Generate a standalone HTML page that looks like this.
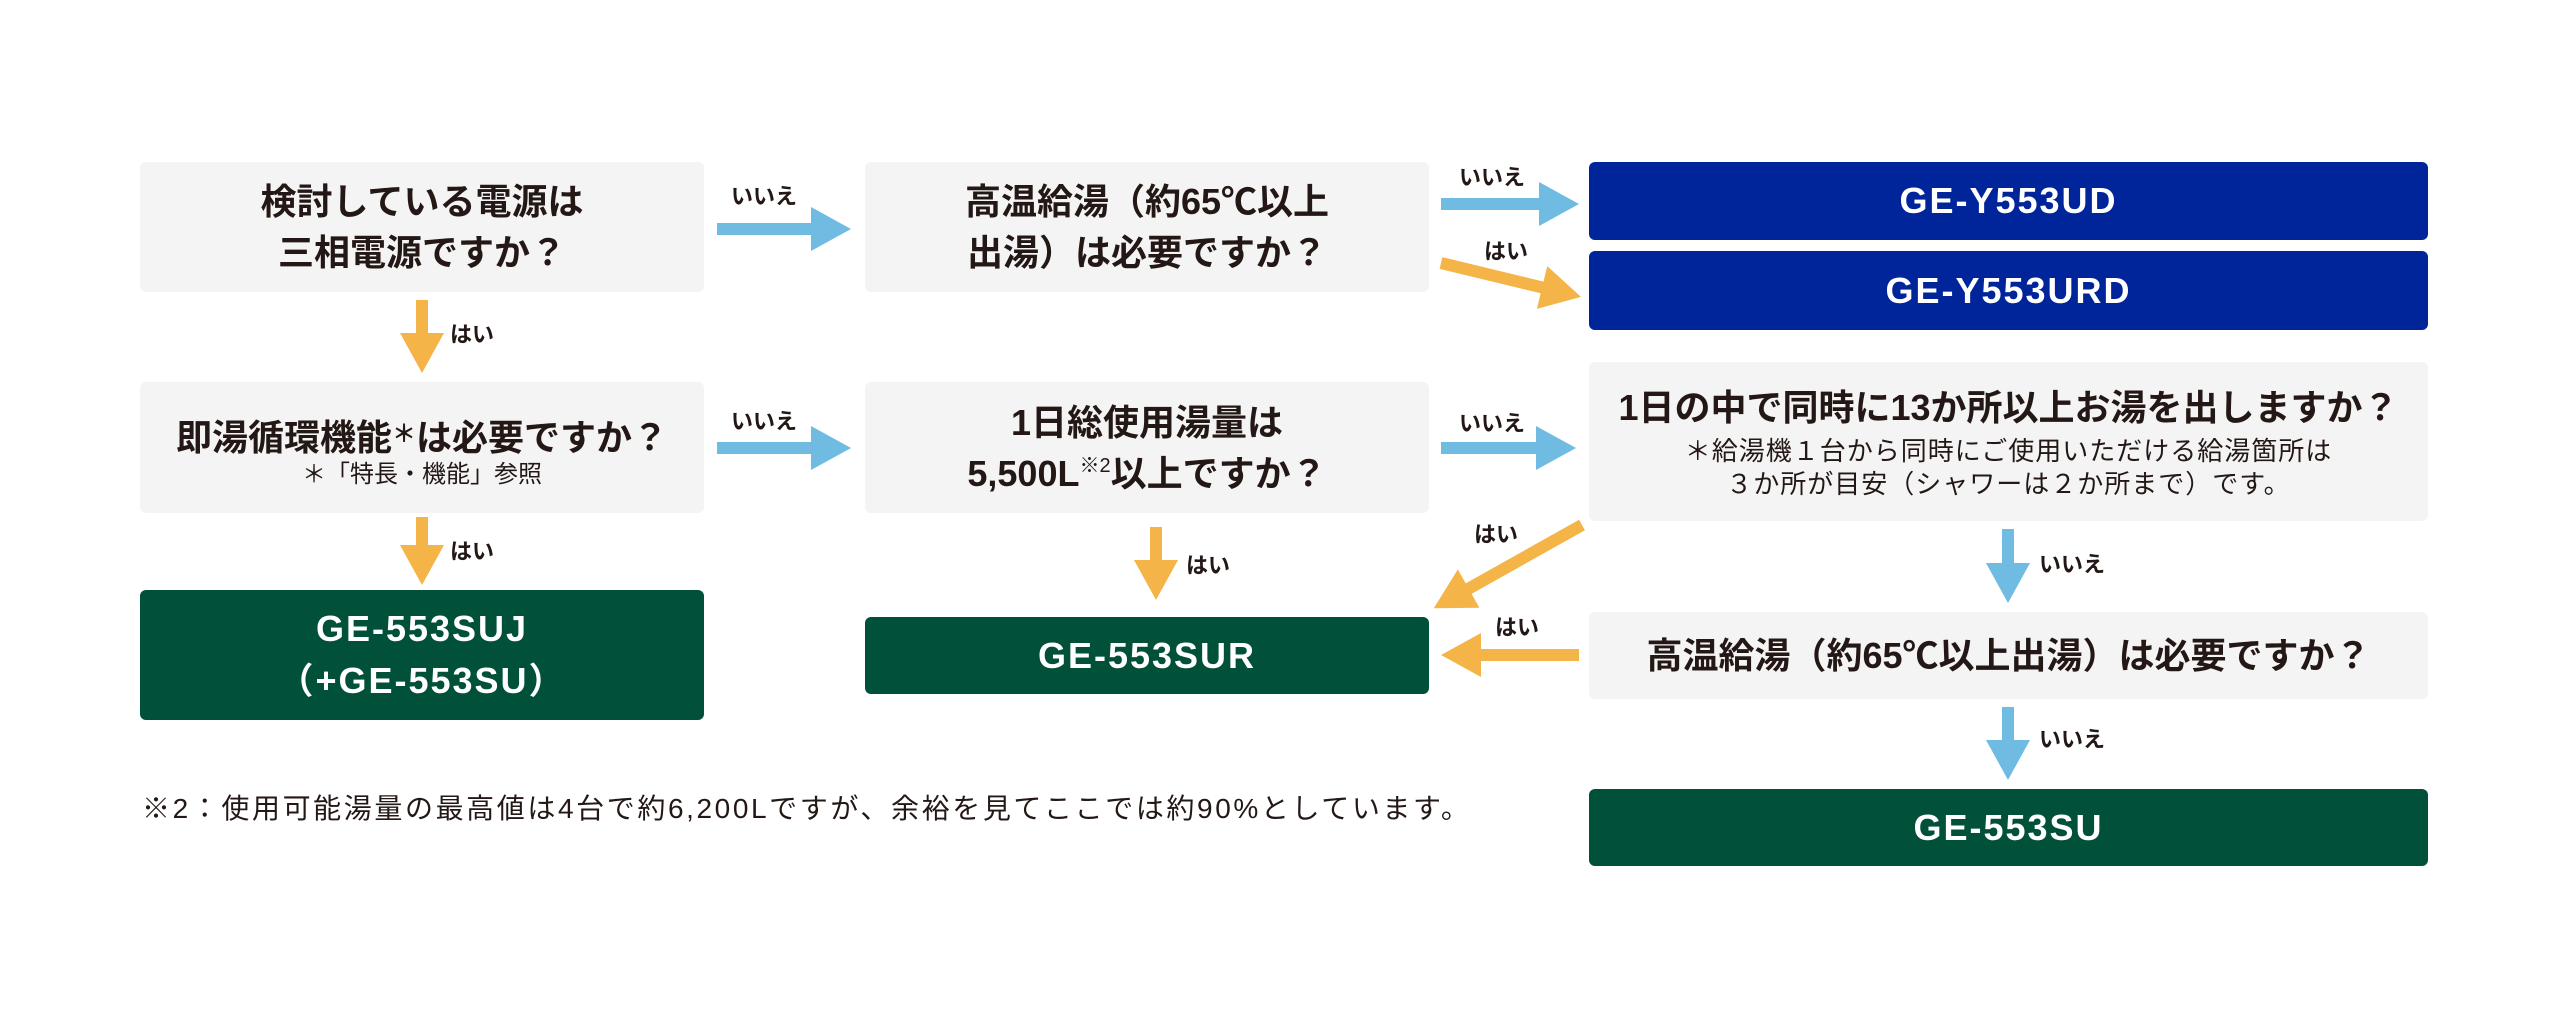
<!DOCTYPE html>
<html><head><meta charset="utf-8"><style>
body{margin:0;width:2560px;height:1020px;background:#fff;position:relative;overflow:hidden;font-family:"Liberation Sans","Noto Sans CJK JP",sans-serif;color:#231815}
.b{position:absolute;display:flex;flex-direction:column;align-items:center;justify-content:center;text-align:center;border-radius:6px;box-sizing:border-box}
.g{background:#f4f4f4;font-weight:bold;font-size:36px;line-height:51px}
.bl{background:#00259a;color:#fff;font-weight:bold;font-size:36px;letter-spacing:2px}
.gr{background:#00503a;color:#fff;font-weight:bold;font-size:36px;letter-spacing:2px;line-height:52px}
.sub{font-weight:normal;font-size:24px;line-height:32px}
.l{position:absolute;font-weight:bold;font-size:22px;line-height:24px}
svg{position:absolute;left:0;top:0}
</style></head><body>
<div class="b g" style="left:140px;top:162px;width:564px;height:130px"><div>検討している電源は<br>三相電源ですか？</div></div>
<div class="b g" style="left:865px;top:162px;width:564px;height:130px"><div>高温給湯（約65℃以上<br>出湯）は必要ですか？</div></div>
<div class="b bl" style="left:1589px;top:162px;width:839px;height:78px"><div>GE-Y553UD</div></div>
<div class="b bl" style="left:1589px;top:251px;width:839px;height:79px"><div>GE-Y553URD</div></div>
<div class="b g" style="left:140px;top:382px;width:564px;height:131px;padding-top:4px"><div>即湯循環機能<span style="font-size:24px;vertical-align:8px">＊</span>は必要ですか？</div><div class="sub" style="margin-top:-4px">＊「特長・機能」参照</div></div>
<div class="b g" style="left:865px;top:382px;width:564px;height:131px"><div>1日総使用湯量は<br>5,500L<span style="font-size:20px;font-weight:normal;vertical-align:14px;line-height:0">※2</span>以上ですか？</div></div>
<div class="b g" style="left:1589px;top:362px;width:839px;height:159px"><div>1日の中で同時に13か所以上お湯を出しますか？</div><div class="sub" style="font-size:26px;line-height:33px;letter-spacing:1px;margin-top:2px">＊給湯機１台から同時にご使用いただける給湯箇所は<br>３か所が目安（シャワーは２か所まで）です。</div></div>
<div class="b gr" style="left:140px;top:590px;width:564px;height:130px"><div>GE-553SUJ<br>（+GE-553SU）</div></div>
<div class="b gr" style="left:865px;top:617px;width:564px;height:77px"><div>GE-553SUR</div></div>
<div class="b g" style="left:1589px;top:612px;width:839px;height:87px"><div>高温給湯（約65℃以上出湯）は必要ですか？</div></div>
<div class="b gr" style="left:1589px;top:789px;width:839px;height:77px"><div>GE-553SU</div></div>
<div style="position:absolute;left:142px;top:791px;font-size:28px;line-height:36px;letter-spacing:2.6px;white-space:nowrap">※2：使用可能湯量の最高値は4台で約6,200Lですが、余裕を見てここでは約90%としています。</div>

<svg width="2560" height="1020">
<g fill="#6fbbe2">
<polygon points="717,223 811,223 811,207 851,229 811,251 811,235 717,235"/>
<polygon points="717,442 811,442 811,426 851,448 811,470 811,454 717,454"/>
<polygon points="1441,198 1539,198 1539,182 1579,204 1539,226 1539,210 1441,210"/>
<polygon points="1441,442 1536,442 1536,426 1576,448 1536,470 1536,454 1441,454"/>
<polygon points="2002,529 2014,529 2014,563 2030,563 2008,603 1986,563 2002,563"/>
<polygon points="1986,740 2002,740 2002,707 2014,707 2014,740 2030,740 2008,780"/>
</g>
<g fill="#f5b447">
<polygon points="416,300 428,300 428,333 444,333 422,373 400,333 416,333"/>
<polygon points="416,517 428,517 428,545 444,545 422,585 400,545 416,545"/>
<polygon points="1150,527 1162,527 1162,560 1178,560 1156,600 1134,560 1150,560"/>
<polygon points="1579,649 1481,649 1481,633 1441,655 1481,677 1481,661 1579,661"/>
<g transform="translate(1441,263) rotate(13.6)"><polygon points="0,-6 104,-6 104,-22 144,0 104,22 104,6 0,6"/></g>
<g transform="translate(1582,525) rotate(150.7)"><polygon points="0,-6 130,-6 130,-22 170,0 130,22 130,6 0,6"/></g>
</g>
</svg>
<div class="l" style="left:731px;top:185px">いいえ</div>
<div class="l" style="left:731px;top:410px">いいえ</div>
<div class="l" style="left:1459px;top:166px">いいえ</div>
<div class="l" style="left:1459px;top:412px">いいえ</div>
<div class="l" style="left:1484px;top:240px">はい</div>
<div class="l" style="left:1474px;top:523px">はい</div>
<div class="l" style="left:1495px;top:616px">はい</div>
<div class="l" style="left:450px;top:323px">はい</div>
<div class="l" style="left:450px;top:540px">はい</div>
<div class="l" style="left:1186px;top:554px">はい</div>
<div class="l" style="left:2039px;top:553px">いいえ</div>
<div class="l" style="left:2039px;top:728px">いいえ</div>
</body></html>
